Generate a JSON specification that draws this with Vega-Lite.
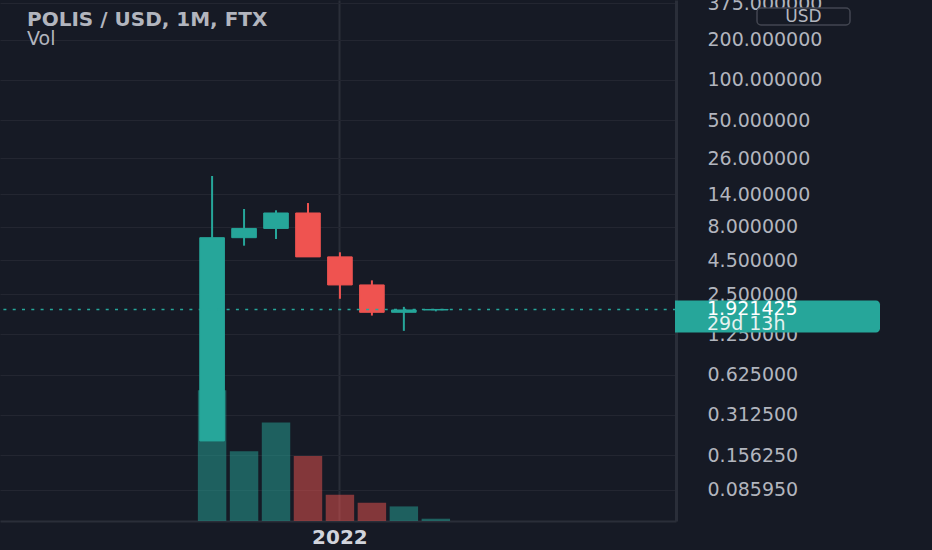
{
  "$schema": "https://vega.github.io/schema/vega-lite/v6.json",
  "width": 676,
  "height": 521,
  "autosize": {"type": "none"},
  "padding": {"left": 0, "top": 0, "right": 256, "bottom": 29},
  "background": "#161a25",
  "config": {"view": {"stroke": null}},
  "title": {
    "text": "POLIS / USD, 1M, FTX",
    "subtitle": "Vol",
    "anchor": "start",
    "frame": "group",
    "offset": -55,
    "dx": 27,
    "font": "DejaVu Sans",
    "fontSize": 20,
    "fontWeight": "bold",
    "color": "#b2b5be",
    "subtitleFont": "DejaVu Sans",
    "subtitleFontSize": 19,
    "subtitleColor": "#b2b5be",
    "subtitlePadding": 0
  },
  "data": {
    "values": [
      {"month": "2021-09", "open": 0.2, "high": 19.1, "low": 0.2, "close": 6.61, "volume": 25.1},
      {"month": "2021-10", "open": 6.61, "high": 10.83, "low": 5.76, "close": 7.75, "volume": 13.4},
      {"month": "2021-11", "open": 7.75, "high": 10.59, "low": 6.46, "close": 10.11, "volume": 18.9},
      {"month": "2021-12", "open": 10.11, "high": 12.0, "low": 4.75, "close": 4.75, "volume": 12.5},
      {"month": "2022-01", "open": 4.75, "high": 5.14, "low": 2.31, "close": 2.93, "volume": 5.05},
      {"month": "2022-02", "open": 2.93, "high": 3.17, "low": 1.73, "close": 1.83, "volume": 3.5},
      {"month": "2022-03", "open": 1.83, "high": 2.01, "low": 1.33, "close": 1.905, "volume": 2.8},
      {"month": "2022-04", "open": 1.905, "high": 1.93, "low": 1.86, "close": 1.921425, "volume": 0.44}
    ]
  },
  "layer": [
    {
      "mark": {"type": "bar", "width": {"band": 0.89}},
      "encoding": {
        "x": {
          "field": "month",
          "type": "ordinal",
          "title": null,
          "scale": {
            "domain": ["2021-03", "2021-04", "2021-05", "2021-06", "2021-07", "2021-08", "2021-09", "2021-10", "2021-11", "2021-12", "2022-01", "2022-02", "2022-03", "2022-04", "2022-05", "2022-06", "2022-07", "2022-08", "2022-09", "2022-10"],
            "paddingInner": 0,
            "paddingOuter": 0.575,
            "align": 0.118
          },
          "axis": {
            "values": ["2022-01"],
            "labelExpr": "'2022'",
            "bandPosition": 0.5,
            "grid": true,
            "gridColor": "#2a2e39",
            "gridWidth": 2,
            "ticks": false,
            "tickSize": 0,
            "domainColor": "#2a2e39",
            "domainWidth": 2,
            "labelColor": "#d1d4dc",
            "labelFont": "DejaVu Sans",
            "labelFontWeight": "bold",
            "labelFontSize": 20,
            "labelPadding": 6,
            "labelAngle": 0,
            "title": null
          }
        },
        "y": {"field": "volume", "type": "quantitative", "title": null, "scale": {"domain": [0, 100]}, "axis": null},
        "color": {
          "condition": {"test": "datum.close >= datum.open", "value": "rgba(38,166,154,0.5)"},
          "value": "rgba(239,83,80,0.5)"
        }
      }
    },
    {
      "layer": [
        {
          "mark": {"type": "rule", "strokeWidth": 2},
          "encoding": {
            "x": {"field": "month", "type": "ordinal", "title": null},
            "y": {
              "field": "low",
              "type": "quantitative",
              "title": null,
              "scale": {"type": "log", "domain": [0.0504, 395.2], "nice": false},
              "axis": {
                "orient": "right",
                "values": [0.08595, 0.15625, 0.3125, 0.625, 1.25, 2.5, 4.5, 8, 14, 26, 50, 100, 200, 375],
                "format": ".6f",
                "grid": true,
                "gridColor": "#232631",
                "gridWidth": 1,
                "ticks": false,
                "tickSize": 0,
                "labelPadding": 31,
                "labelFont": "DejaVu Sans",
                "labelFontSize": 19,
                "labelColor": "#b2b5be",
                "labelAlign": "left",
                "labelBaseline": "middle",
                "labelOverlap": false,
                "labelBound": false,
                "labelFlush": false,
                "domainColor": "#2a2e39",
                "domainWidth": 3,
                "title": null
              }
            },
            "y2": {"field": "high"},
            "color": {
              "condition": {"test": "datum.close >= datum.open", "value": "#26a69a"},
              "value": "#ef5350"
            }
          }
        },
        {
          "mark": {"type": "bar", "width": {"band": 0.77}, "strokeWidth": 1},
          "encoding": {
            "x": {"field": "month", "type": "ordinal", "title": null},
            "y": {"field": "open", "type": "quantitative", "title": null, "scale": {"type": "log", "domain": [0.0504, 395.2], "nice": false}},
            "y2": {"field": "close"},
            "color": {
              "condition": {"test": "datum.close >= datum.open", "value": "#26a69a"},
              "value": "#ef5350"
            },
            "stroke": {
              "condition": {"test": "datum.close >= datum.open", "value": "#26a69a"},
              "value": "#ef5350"
            }
          }
        },
        {
          "data": {"values": [{"price": 1.921425, "countdown": "29d 13h"}]},
          "layer": [
            {
              "mark": {"type": "rule", "color": "#26a69a", "strokeWidth": 1.5, "strokeDash": [3, 6.3]},
              "encoding": {
                "y": {"field": "price", "type": "quantitative", "title": null, "scale": {"type": "log", "domain": [0.0504, 395.2], "nice": false}}
              }
            },
            {
              "mark": {"type": "rect", "color": "#26a69a", "width": 205, "height": 32, "xOffset": 101.5, "yOffset": 7, "cornerRadiusTopRight": 4, "cornerRadiusBottomRight": 4},
              "encoding": {
                "x": {"value": "width"},
                "y": {"field": "price", "type": "quantitative", "title": null, "scale": {"type": "log", "domain": [0.0504, 395.2], "nice": false}}
              }
            },
            {
              "mark": {"type": "text", "align": "left", "baseline": "middle", "dx": 31, "dy": 0, "font": "DejaVu Sans", "fontSize": 19, "color": "#ffffff"},
              "encoding": {
                "x": {"value": "width"},
                "y": {"field": "price", "type": "quantitative", "title": null, "scale": {"type": "log", "domain": [0.0504, 395.2], "nice": false}},
                "text": {"field": "price", "type": "quantitative", "format": ".6f"}
              }
            },
            {
              "mark": {"type": "text", "align": "left", "baseline": "middle", "dx": 31, "dy": 14.5, "font": "DejaVu Sans", "fontSize": 19, "color": "#e6f2f0"},
              "encoding": {
                "x": {"value": "width"},
                "y": {"field": "price", "type": "quantitative", "title": null, "scale": {"type": "log", "domain": [0.0504, 395.2], "nice": false}},
                "text": {"field": "countdown", "type": "nominal"}
              }
            }
          ]
        },
        {
          "data": {"values": [{"currency": "USD"}]},
          "layer": [
            {
              "mark": {"type": "rect", "fill": "#161a25", "stroke": "#434651", "strokeWidth": 1.5, "width": 93, "height": 17, "xOffset": 127.5, "yOffset": 16.5, "cornerRadius": 4},
              "encoding": {"x": {"value": "width"}, "y": {"value": 0}}
            },
            {
              "mark": {"type": "text", "align": "center", "baseline": "middle", "dx": 127.5, "dy": 16.5, "font": "DejaVu Sans", "fontSize": 17, "color": "#b2b5be"},
              "encoding": {"x": {"value": "width"}, "y": {"value": 0}, "text": {"field": "currency", "type": "nominal"}}
            }
          ]
        }
      ]
    }
  ],
  "resolve": {"scale": {"y": "independent"}}
}
